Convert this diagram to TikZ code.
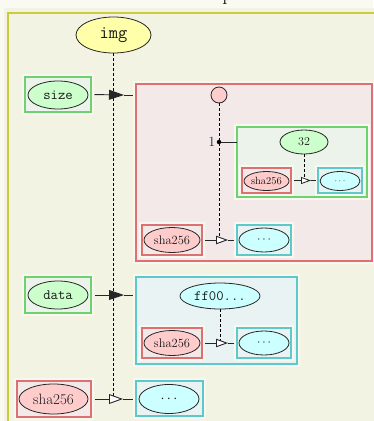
\documentclass[tikz,border=0pt]{standalone}
\usepackage{fontspec}
\usetikzlibrary{arrows.meta,shapes.geometric}

\definecolor{pagebg}{HTML}{FAFAF3}
\definecolor{framefill}{HTML}{F3F3E4}
\definecolor{frameline}{HTML}{CCCC3A}
\definecolor{grnline}{HTML}{6ED36E}
\definecolor{grnbox}{HTML}{EBF3EA}
\definecolor{grnell}{HTML}{CCFFCC}
\definecolor{redline}{HTML}{DD7070}
\definecolor{redbox}{HTML}{F4E9E9}
\definecolor{redell}{HTML}{FFCCCC}
\definecolor{cyanline}{HTML}{5CCACA}
\definecolor{cyanbox}{HTML}{EAF3F3}
\definecolor{cyanell}{HTML}{CCFFFF}
\definecolor{yelell}{HTML}{FFFFAA}

\tikzset{
  box/.style={rectangle, inner sep=0pt, outer sep=0pt, line width=1.1pt,
    preaction={draw=white!45!framefill, line width=6.5pt}},
  gbox/.style={box, draw=grnline, fill=grnbox},
  rbox/.style={box, draw=redline, fill=redbox},
  cbox/.style={box, draw=cyanline, fill=cyanbox},
  cell/.style={ellipse, draw=black!85, line width=0.8pt, inner sep=0pt, text=black!90},
  gcell/.style={cell, fill=grnell},
  rcell/.style={cell, fill=redell},
  ccell/.style={cell, fill=cyanell},
  ycell/.style={cell, fill=yelell},
  tt/.style={font=\fontsize{#1}{#1}\selectfont\ttfamily},
  rm/.style={font=\fontsize{#1}{#1}\selectfont\rmfamily},
  conn/.style={draw=black!85, line width=0.9pt},
  vline/.style={draw=black, line width=0.7pt, dash pattern=on 3pt off 2pt},
  tipfull/.style={-{Triangle[length=#1pt, width=0.66*#1pt]}},
  tipopen/.style={-{Triangle[length=#1pt, width=0.7*#1pt, fill=white]}},
}

\begin{document}
\begin{tikzpicture}[x=1pt, y=-1pt]
  % page and outer frame
  \useasboundingbox[fill=pagebg] (0,0) rectangle (373,421);
  \fill[framefill] (4,8) rectangle (390,440);
  \draw[frameline, line width=1.3pt] (8,13) rectangle (390,440);
  \node[anchor=base, rm=20] (title) at (227.5,0) {p};

  % root
  \node[ycell, tt=18, minimum width=75pt, minimum height=36pt] (img) at (113.5,35) {img};

  % row 1: size
  \node[gbox, minimum width=66pt, minimum height=35pt] (sizebox) at (58,94.5) {};
  \node[gcell, tt=14.3, minimum width=60pt, minimum height=28pt] (size) at (58,95) {size};
  \node[rbox, minimum width=236pt, minimum height=177pt] (sizeval) at (254,172.5) {};
  \node[circle, draw=black!85, fill=redell, line width=0.8pt, minimum size=16pt, inner sep=0pt] (root1) at (219,95) {};
  \node[circle, fill=black, minimum size=4.5pt, inner sep=0pt, label={[rm=14, text=black!85, inner sep=1pt]left:1}] (idx1) at (219,142) {};
  \node[gbox, minimum width=130pt, minimum height=70pt] (entry1) at (302,162) {};
  \node[gcell, rm=12, minimum width=48pt, minimum height=24pt] (n32) at (304,142) {32};
  \node[rbox, minimum width=49pt, minimum height=25pt] (hsmallbox) at (266.5,180.5) {};
  \node[rcell, rm=10.5, minimum width=45pt, minimum height=19pt] (hsmall) at (266.5,181) {sha256};
  \node[cbox, minimum width=44pt, minimum height=25pt] (dsmallbox) at (340,180.5) {};
  \node[ccell, rm=9, minimum width=40pt, minimum height=19pt] (dsmall) at (340,181) {$\cdots$};
  \node[rbox, minimum width=60pt, minimum height=30pt] (hmidbox) at (172,240) {};
  \node[rcell, rm=12.5, minimum width=56pt, minimum height=25pt] (hmid) at (172,240) {sha256};
  \node[cbox, minimum width=54pt, minimum height=30pt] (dmidbox) at (264,240) {};
  \node[ccell, rm=13, minimum width=50pt, minimum height=24pt] (dmid) at (264,240) {$\cdots$};

  % row 2: data
  \node[gbox, minimum width=66pt, minimum height=36pt] (databox) at (58,295) {};
  \node[gcell, tt=14.3, minimum width=60pt, minimum height=28pt] (data) at (58,295) {data};
  \node[cbox, minimum width=161pt, minimum height=87pt] (dataval) at (216.5,320.5) {};
  \node[ccell, tt=14.3, minimum width=80pt, minimum height=26pt] (bytes) at (220,296) {ff00...};
  \node[rbox, minimum width=60pt, minimum height=30pt] (hdatbox) at (172,343) {};
  \node[rcell, rm=12.5, minimum width=56pt, minimum height=25pt] (hdat) at (172,343) {sha256};
  \node[cbox, minimum width=54pt, minimum height=30pt] (ddatbox) at (264,343) {};
  \node[ccell, rm=13, minimum width=50pt, minimum height=24pt] (ddat) at (264,343) {$\cdots$};

  % row 3: sha256
  \node[rbox, minimum width=74pt, minimum height=36pt] (hbotbox) at (54,399) {};
  \node[rcell, rm=15, minimum width=69pt, minimum height=30pt] (hbot) at (53.5,399) {sha256};
  \node[cbox, minimum width=67pt, minimum height=35pt] (dbotbox) at (169.5,398.5) {};
  \node[ccell, rm=14, minimum width=60pt, minimum height=29pt] (dbot) at (169,399) {$\cdots$};

  % arrow tip positions
  \coordinate (msize) at (124,95);
  \coordinate (mdata) at (124,295);
  \coordinate (mbot)  at (123,399);
  \coordinate (mmid)  at (228,240);
  \coordinate (mdat)  at (228,343);
  \coordinate (msmall) at (311,180.5);

  % dashed spines
  \draw[vline] (img.south) -- (img.south |- mbot);
  \draw[vline] (root1.south) -- (root1.south |- mmid);
  \draw[vline] (bytes.south) -- (bytes.south |- mdat);
  \draw[vline] (n32.south) -- (n32.south |- msmall);

  % index link
  \draw[conn] (idx1) -- (idx1 -| entry1.west);

  % connectors with their tips
  \draw[conn, tipfull=15, shorten <=3.5pt] (sizebox.east) -- (msize);
  \draw[conn, shorten >=3pt] (msize) -- (msize -| sizeval.west);
  \draw[conn, tipfull=15, shorten <=3.5pt] (databox.east) -- (mdata);
  \draw[conn, shorten >=3pt] (mdata) -- (mdata -| dataval.west);
  \draw[conn, tipopen=14, shorten <=3.5pt] (hbotbox.east) -- (mbot);
  \draw[conn, shorten >=3pt] (mbot) -- (mbot -| dbotbox.west);
  \draw[conn, tipopen=12, shorten <=3pt] (hmidbox.east) -- (mmid);
  \draw[conn, shorten >=3pt] (mmid) -- (mmid -| dmidbox.west);
  \draw[conn, tipopen=12, shorten <=3pt] (hdatbox.east) -- (mdat);
  \draw[conn, shorten >=3pt] (mdat) -- (mdat -| ddatbox.west);
  \draw[conn, line width=0.8pt, tipopen=10, shorten <=2.5pt] (hsmallbox.east) -- (msmall);
  \draw[conn, line width=0.8pt, shorten >=2.5pt] (msmall) -- (msmall -| dsmallbox.west);
\end{tikzpicture}
\end{document}
